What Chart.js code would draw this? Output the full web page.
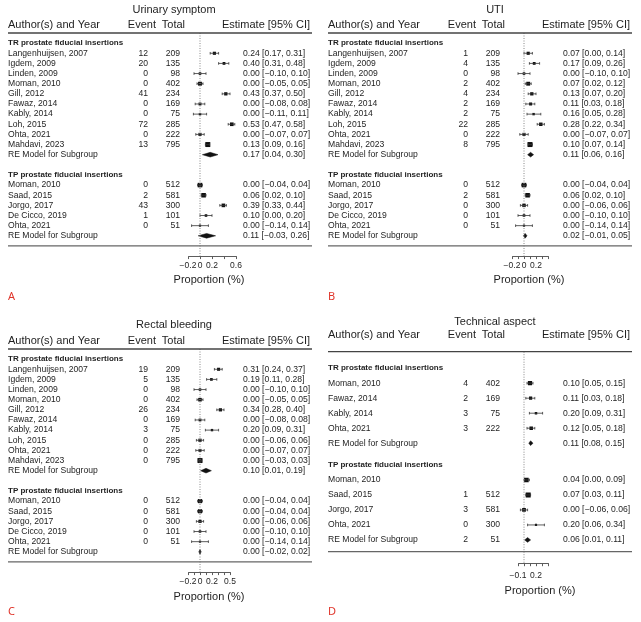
<!DOCTYPE html>
<html>
<head>
<meta charset="utf-8">
<script src="https://cdn.jsdelivr.net/npm/chart.js@4.4.0/dist/chart.umd.min.js"></script>
<style>
  body { margin: 0; background: #fff; }
  #wrap { position: relative; width: 641px; height: 622px; }
  canvas { position: absolute; }
</style>
</head>
<body>
<div id="wrap">
  <canvas id="chartA" width="320" height="316" style="left:0;top:0"></canvas>
  <canvas id="chartB" width="321" height="316" style="left:320px;top:0"></canvas>
  <canvas id="chartC" width="320" height="306" style="left:0;top:316px"></canvas>
  <canvas id="chartD" width="321" height="306" style="left:320px;top:316px"></canvas>
</div>
<script>
// study lists shared by panels A-C
const trStudies = ["Langenhuijsen, 2007", "Igdem, 2009", "Linden, 2009", "Moman, 2010", "Gill, 2012",
  "Fawaz, 2014", "Kably, 2014", "Loh, 2015", "Ohta, 2021", "Mahdavi, 2023"];
const trTotals = [209, 135, 98, 402, 234, 169, 75, 285, 222, 795];
const tpStudies = ["Moman, 2010", "Saad, 2015", "Jorgo, 2017", "De Cicco, 2019", "Ohta, 2021"];
const tpTotals = [512, 581, 300, 101, 51];

// A - urinary symptom
const urinaryTrEvents = [12, 20, 0, 0, 41, 0, 0, 72, 0, 13];
const urinaryTrEst = [0.24, 0.40, 0.00, 0.00, 0.43, 0.00, 0.00, 0.53, 0.00, 0.13];
const urinaryTrLow = [0.17, 0.31, -0.10, -0.05, 0.37, -0.08, -0.11, 0.47, -0.07, 0.09];
const urinaryTrHigh = [0.31, 0.48, 0.10, 0.05, 0.50, 0.08, 0.11, 0.58, 0.07, 0.16];
const urinaryTrRE = [0.17, 0.04, 0.30];
const urinaryTpEvents = [0, 2, 43, 1, 0];
const urinaryTpEst = [0.00, 0.06, 0.39, 0.10, 0.00];
const urinaryTpLow = [-0.04, 0.02, 0.33, 0.00, -0.14];
const urinaryTpHigh = [0.04, 0.10, 0.44, 0.20, 0.14];
const urinaryTpRE = [0.11, -0.03, 0.26];

// B - UTI
const utiTrEvents = [1, 4, 0, 2, 4, 2, 2, 22, 0, 8];
const utiTrEst = [0.07, 0.17, 0.00, 0.07, 0.13, 0.11, 0.16, 0.28, 0.00, 0.10];
const utiTrLow = [0.00, 0.09, -0.10, 0.02, 0.07, 0.03, 0.05, 0.22, -0.07, 0.07];
const utiTrHigh = [0.14, 0.26, 0.10, 0.12, 0.20, 0.18, 0.28, 0.34, 0.07, 0.14];
const utiTrRE = [0.11, 0.06, 0.16];
const utiTpEvents = [0, 2, 0, 0, 0];
const utiTpEst = [0.00, 0.06, 0.00, 0.00, 0.00];
const utiTpLow = [-0.04, 0.02, -0.06, -0.10, -0.14];
const utiTpHigh = [0.04, 0.10, 0.06, 0.10, 0.14];
const utiTpRE = [0.02, -0.01, 0.05];

// C - rectal bleeding
const rectalTrEvents = [19, 5, 0, 0, 26, 0, 3, 0, 0, 0];
const rectalTrEst = [0.31, 0.19, 0.00, 0.00, 0.34, 0.00, 0.20, 0.00, 0.00, 0.00];
const rectalTrLow = [0.24, 0.11, -0.10, -0.05, 0.28, -0.08, 0.09, -0.06, -0.07, -0.03];
const rectalTrHigh = [0.37, 0.28, 0.10, 0.05, 0.40, 0.08, 0.31, 0.06, 0.07, 0.03];
const rectalTrRE = [0.10, 0.01, 0.19];
const rectalTpEvents = [0, 0, 0, 0, 0];
const rectalTpEst = [0.00, 0.00, 0.00, 0.00, 0.00];
const rectalTpLow = [-0.04, -0.04, -0.06, -0.10, -0.14];
const rectalTpHigh = [0.04, 0.04, 0.06, 0.10, 0.14];
const rectalTpRE = [0.00, -0.02, 0.02];

// D - technical aspect
const techTrStudies = ["Moman, 2010", "Fawaz, 2014", "Kably, 2014", "Ohta, 2021"];
const techTrEvents = [4, 2, 3, 3];
const techTrTotals = [402, 169, 75, 222];
const techTrEst = [0.10, 0.11, 0.20, 0.12];
const techTrLow = [0.05, 0.03, 0.09, 0.05];
const techTrHigh = [0.15, 0.18, 0.31, 0.18];
const techTrRE = [0.11, 0.08, 0.15];
const techTpStudies = ["Moman, 2010", "Saad, 2015", "Jorgo, 2017", "Ohta, 2021"];
const techTpEvents = [null, 1, 3, 0];
const techTpTotals = [null, 512, 581, 300];
const techTpEst = [0.04, 0.07, 0.00, 0.20];
const techTpLow = [0.00, 0.03, -0.06, 0.06];
const techTpHigh = [0.09, 0.11, 0.06, 0.34];
const techTpRE = [0.06, 0.01, 0.11];
const techTpReEvent = 2, techTpReTotal = 51;

const INK = "#1e1e1e";
const FONT = "'Liberation Sans', Arial, sans-serif";
const trName = "TR prostate fiducial insertions";
const tpName = "TP prostate fiducial insertions";

const fmt = v => (v < 0 ? "\u2212" : "") + Math.abs(v).toFixed(2);
const tickText = v => {
  const r = Math.round(v * 10) / 10;
  return r === 0 ? "0" : (r < 0 ? "\u2212" : "") + Math.abs(r).toFixed(1);
};

const panels = [
  {
    id: "chartA", title: "Urinary symptom", titleX: 174, letter: "A", letterY: 297,
    top: 33, unit: 10.14, axisRow: 22, ruleRow: 21, titleDy: -23, headDy: -8,
    xMin: -0.2, xMax: 0.6, step: 0.2, tickLabels: ["\u22120.2", "0", "0.2", "0.6"],
    padL: 188, padR: 84, scaleH: 31, tickPad: 1, dh: 0.23, propX: 209, propY: 280,
    groups: [
      { name: trName, row: 1, studies: trStudies, events: urinaryTrEvents, totals: trTotals,
        est: urinaryTrEst, low: urinaryTrLow, high: urinaryTrHigh, re: urinaryTrRE },
      { name: tpName, row: 14, studies: tpStudies, events: urinaryTpEvents, totals: tpTotals,
        est: urinaryTpEst, low: urinaryTpLow, high: urinaryTpHigh, re: urinaryTpRE }
    ]
  },
  {
    id: "chartB", title: "UTI", titleX: 175, letter: "B", letterY: 297,
    top: 33, unit: 10.14, axisRow: 22, ruleRow: 21, titleDy: -23, headDy: -8,
    xMin: -0.2, xMax: 0.4, step: 0.1, tickLabels: ["\u22120.2", "0", "0.2"],
    padL: 192, padR: 93, scaleH: 31, tickPad: 1, dh: 0.23, propX: 209, propY: 280,
    groups: [
      { name: trName, row: 1, studies: trStudies, events: utiTrEvents, totals: trTotals,
        est: utiTrEst, low: utiTrLow, high: utiTrHigh, re: utiTrRE },
      { name: tpName, row: 14, studies: tpStudies, events: utiTpEvents, totals: tpTotals,
        est: utiTpEst, low: utiTpLow, high: utiTpHigh, re: utiTpRE }
    ]
  },
  {
    id: "chartC", title: "Rectal bleeding", titleX: 174, letter: "C", letterY: 296,
    top: 33, unit: 10.14, axisRow: 22, ruleRow: 21, titleDy: -24, headDy: -8,
    xMin: -0.2, xMax: 0.5, step: 0.1, tickLabels: ["\u22120.2", "0", "0.2", "0.5"],
    padL: 188, padR: 90, scaleH: 31, tickPad: 1, dh: 0.23, propX: 209, propY: 281,
    groups: [
      { name: trName, row: 1, studies: trStudies, events: rectalTrEvents, totals: trTotals,
        est: rectalTrEst, low: rectalTrLow, high: rectalTrHigh, re: rectalTrRE },
      { name: tpName, row: 14, studies: tpStudies, events: rectalTpEvents, totals: tpTotals,
        est: rectalTpEst, low: rectalTpLow, high: rectalTpHigh, re: rectalTpRE }
    ]
  },
  {
    id: "chartD", title: "Technical aspect", titleX: 175, letter: "D", letterY: 296,
    top: 35.7, unit: 15, axisRow: 14.1, ruleRow: 13.33, titleDy: -30, headDy: -16.7,
    xMin: -0.1, xMax: 0.4, step: 0.1, tickLabels: ["\u22120.1", "0.2"],
    padL: 198, padR: 93, scaleH: 34, tickPad: 4, dh: 0.16, propX: 220, propY: 275,
    groups: [
      { name: trName, row: 1.1, studies: techTrStudies, events: techTrEvents, totals: techTrTotals,
        est: techTrEst, low: techTrLow, high: techTrHigh, re: techTrRE },
      { name: tpName, row: 7.55, studies: techTpStudies, events: techTpEvents, totals: techTpTotals,
        est: techTpEst, low: techTpLow, high: techTpHigh, re: techTpRE,
        reEvent: techTpReEvent, reTotal: techTpReTotal }
    ]
  }
];

function buildDatasets(p) {
  const whisk = [], caps = [], boxes = [], sizes = [], diamonds = [];
  const w = [];
  p.groups.forEach(g => g.low.forEach((l, i) => w.push(1 / (g.high[i] - l))));
  const wMin = Math.min(...w), wMax = Math.max(...w);
  p.groups.forEach(g => {
    g.est.forEach((e, i) => {
      const r = g.row + 1 + i;
      whisk.push({ x: g.low[i], y: r }, { x: g.high[i], y: r }, { x: g.high[i], y: null });
      caps.push({ x: g.low[i], y: r }, { x: g.high[i], y: r });
      boxes.push({ x: e, y: r });
      const wi = 1 / (g.high[i] - g.low[i]);
      sizes.push((2.2 + 2.8 * (wi - wMin) / (wMax - wMin)) / Math.SQRT2);
    });
    const rr = g.row + 1 + g.est.length;
    const [m, lo, hi] = g.re;
    diamonds.push({
      data: [{ x: lo, y: rr }, { x: m, y: rr - p.dh }, { x: hi, y: rr }, { x: m, y: rr + p.dh }, { x: lo, y: rr }],
      showLine: true, fill: "shape", backgroundColor: "#111", borderColor: "#111",
      borderWidth: 0.5, pointRadius: 0
    });
  });
  return [
    { data: [{ x: 0, y: 0 }, { x: 0, y: p.axisRow }], showLine: true, borderColor: "#888",
      borderWidth: 1, borderDash: [1, 1.5], pointRadius: 0 },
    { data: whisk, showLine: true, spanGaps: false, borderColor: "#333", borderWidth: 0.8, pointRadius: 0 },
    { data: caps, pointStyle: "line", rotation: 90, pointRadius: 1.3, borderColor: "#333", borderWidth: 0.8 },
    { data: boxes, pointStyle: "rect", pointRadius: sizes, backgroundColor: "#111", borderColor: "#111", borderWidth: 0 },
    ...diamonds
  ];
}

function textPlugin(p) {
  return {
    id: "forestText",
    afterDraw(chart) {
      const ctx = chart.ctx;
      const Y = r => chart.scales.y.getPixelForValue(r);
      ctx.save();
      ctx.fillStyle = INK;
      ctx.textBaseline = "middle";
      // title + header
      ctx.font = "11px " + FONT;
      ctx.textAlign = "center";
      ctx.fillText(p.title, p.titleX, Y(0) + p.titleDy);
      ctx.fillText("Proportion (%)", p.propX, p.propY);
      const hy = Y(0) + p.headDy;
      ctx.textAlign = "left";
      ctx.fillText("Author(s) and Year", 8, hy);
      ctx.textAlign = "right";
      ctx.fillText("Event", 156, hy);
      ctx.fillText("Total", 185, hy);
      ctx.fillText("Estimate [95% CI]", 310, hy);
      // rules
      ctx.strokeStyle = "#444";
      ctx.lineWidth = 1.3;
      ctx.beginPath();
      ctx.moveTo(8, Y(0)); ctx.lineTo(312, Y(0));
      ctx.stroke();
      ctx.strokeStyle = "#666";
      ctx.beginPath();
      ctx.moveTo(8, Y(p.ruleRow)); ctx.lineTo(312, Y(p.ruleRow));
      ctx.stroke();
      // rows
      p.groups.forEach(g => {
        ctx.font = "bold 8px " + FONT;
        ctx.textAlign = "left";
        ctx.fillText(g.name, 8, Y(g.row));
        ctx.font = "8.6px " + FONT;
        g.studies.forEach((s, i) => {
          const y = Y(g.row + 1 + i);
          ctx.textAlign = "left";
          ctx.fillText(s, 8, y);
          ctx.fillText(fmt(g.est[i]) + " [" + fmt(g.low[i]) + ", " + fmt(g.high[i]) + "]", 243, y);
          ctx.textAlign = "right";
          if (g.events[i] !== null) ctx.fillText(String(g.events[i]), 148, y);
          if (g.totals[i] !== null) ctx.fillText(String(g.totals[i]), 180, y);
        });
        const ry = Y(g.row + 1 + g.est.length);
        ctx.textAlign = "left";
        ctx.fillText("RE Model for Subgroup", 8, ry);
        ctx.fillText(fmt(g.re[0]) + " [" + fmt(g.re[1]) + ", " + fmt(g.re[2]) + "]", 243, ry);
        ctx.textAlign = "right";
        if (g.reEvent !== undefined) ctx.fillText(String(g.reEvent), 148, ry);
        if (g.reTotal !== undefined) ctx.fillText(String(g.reTotal), 180, ry);
      });
      // panel letter
      ctx.fillStyle = "#e0352b";
      ctx.font = "11px 'Noto Sans', sans-serif";
      ctx.textAlign = "left";
      ctx.fillText(p.letter, 8, p.letterY);
      ctx.restore();
    }
  };
}

panels.forEach(p => {
  const canvas = document.getElementById(p.id);
  const padB = canvas.height - p.top - p.axisRow * p.unit - p.scaleH;
  new Chart(canvas, {
    type: "scatter",
    data: { datasets: buildDatasets(p) },
    options: {
      responsive: false,
      animation: false,
      events: [],
      layout: { padding: { left: p.padL, right: p.padR, top: p.top, bottom: padB } },
      plugins: { legend: { display: false }, tooltip: { enabled: false } },
      scales: {
        x: {
          type: "linear", min: p.xMin, max: p.xMax,
          afterFit: s => { s.height = p.scaleH; },
          ticks: {
            stepSize: p.step, autoSkip: false, maxRotation: 0, padding: p.tickPad,
            color: INK, font: { family: FONT, size: 8.5 },
            callback: v => { const t = tickText(v); return p.tickLabels.includes(t) ? t : ""; }
          },
          grid: { display: true, drawOnChartArea: false, drawTicks: true, tickLength: 3, color: "#333", lineWidth: 0.8 },
          border: { display: true, color: "#333", width: 0.8 },
          title: { display: false }
        },
        y: { type: "linear", reverse: true, min: 0, max: p.axisRow, display: false }
      }
    },
    plugins: [textPlugin(p)]
  });
});
</script>
</body>
</html>
